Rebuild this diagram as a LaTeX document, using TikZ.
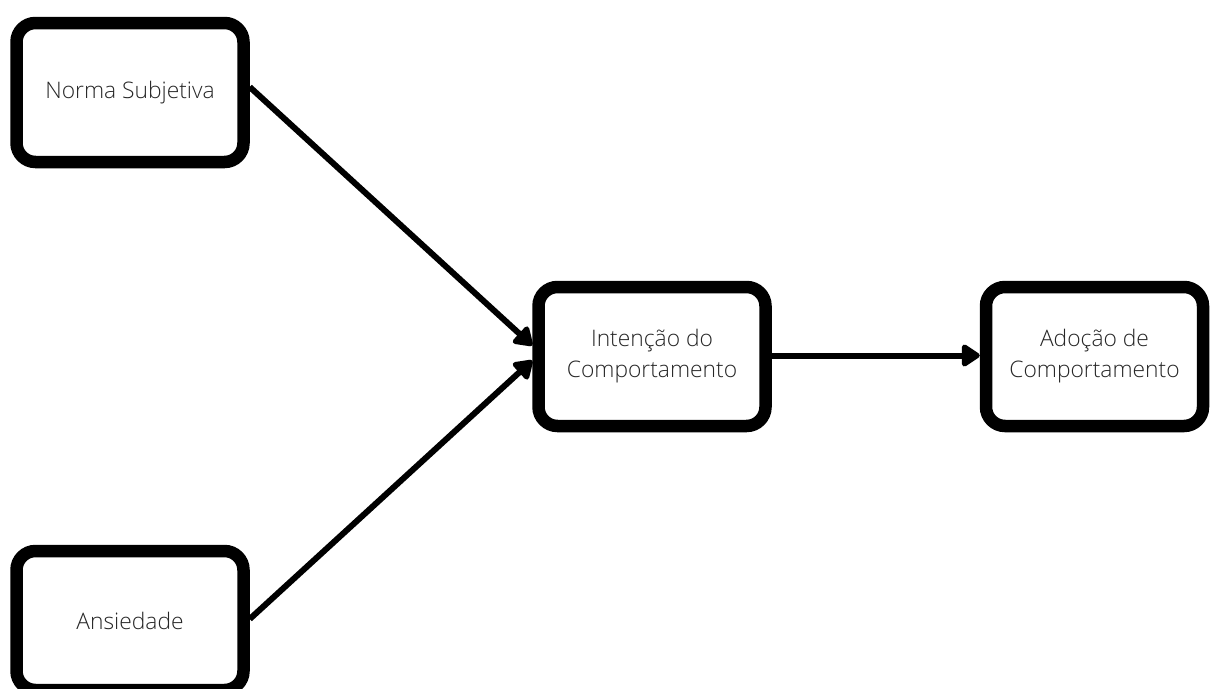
\documentclass[tikz,border=0pt]{standalone}
\usepackage{fontspec}
\setmainfont{Open Sans}[UprightFont={* Light}]
\usetikzlibrary{arrows.meta}
\definecolor{txt}{HTML}{262626}
\begin{document}
\begin{tikzpicture}[x=1pt,y=-1pt,
  box/.style={draw=black, line width=12.5pt, rounded corners=19pt, fill=white,
    minimum width=227pt, minimum height=139pt, inner sep=0pt, align=center,
    text=txt, font=\fontsize{22.8}{31}\selectfont},
  link/.style={line width=6pt, -{Triangle[width=25pt,length=20pt,round]}}]
\useasboundingbox (0,0) rectangle (1210,688);
% factor boxes
\node[box] (ns) at (130,92.5) {Norma Subjetiva};
\node[box] (an) at (130,620.5) {Ansiedade};
\node[box] (ic) at (652,356.5) {Intenção do\\Comportamento};
\node[box, minimum width=217pt] (ad) at (1094.5,356.5) {Adoção de\\Comportamento};
% influences
\draw[link] ([yshift=5.5pt]ns.east) -- ([yshift=11pt]ic.west);
\draw[link] ([yshift=1.5pt]an.east) -- ([yshift=-4pt]ic.west);
\draw[link] ([yshift=1pt]ic.east) -- ([yshift=1pt]ad.west);
\end{tikzpicture}
\end{document}
